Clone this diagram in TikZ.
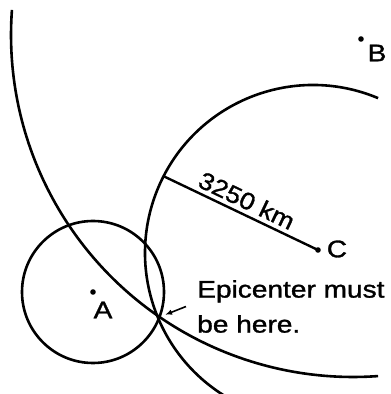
\documentclass[tikz,border=0pt]{standalone}
\usepackage{fontspec}
\newfontfamily\labfont[FakeBold=1.2]{Liberation Sans}
\usetikzlibrary{arrows.meta,calc}
\begin{document}
\begin{tikzpicture}[x=1pt,y=1pt,
  curve/.style={line width=2.6pt},
  lbl/.style={font=\labfont\fontsize{24}{35}\selectfont, xscale=1.17, transform shape, inner sep=0pt},
  distlbl/.style={font=\labfont\fontsize{24}{35}\selectfont, rotate=-25.5, xscale=1.12, transform shape, inner sep=0pt},
  dot/.style={fill=black}]
\useasboundingbox (0,0) rectangle (391,394);
% stations and epicenter
\coordinate (A) at (93,102);
\coordinate (B) at (361,355);
\coordinate (C) at (318,144);
\coordinate (E) at (159.5,77);
% centres of the hand-drawn arcs
\coordinate (Bc) at (353,359);
\coordinate (Cc) at (313,141);
% circles
\draw[curve] (A) circle[radius=71];
\draw[curve] (Bc) ++(175.8:342) arc[start angle=175.8,end angle=274.2,radius=342];
\draw[curve] (Cc) ++(67.2:168) arc[start angle=67.2,end angle=238.9,radius=168];
% radius line
\coordinate (R) at ($(Cc)+(152.8:168)$);
\draw[line width=2.4pt] (R) -- (C);
\node[distlbl] (dist) at ($($(R)!0.5!(C)$)!14pt!90:(C)$) {3250 km};
% dots
\fill[dot] (A) circle (2.8);
\fill[dot] (B) circle (2.8);
\fill[dot] (C) circle (2.8);
% labels
\node[lbl] (la) at (103,84) {A};
\node[lbl] (lb) at (377,341) {B};
\node[lbl] (lc) at (337,145) {C};
\node[lbl, align=left, anchor=north west] (note) at (197,114) {Epicenter must\\be here.};
% arrow
\draw[-{Latex[length=7pt,width=5.5pt]}, line width=1.6pt, shorten >=6pt] ([xshift=-11pt]note.west) -- (E);
\end{tikzpicture}
\end{document}
